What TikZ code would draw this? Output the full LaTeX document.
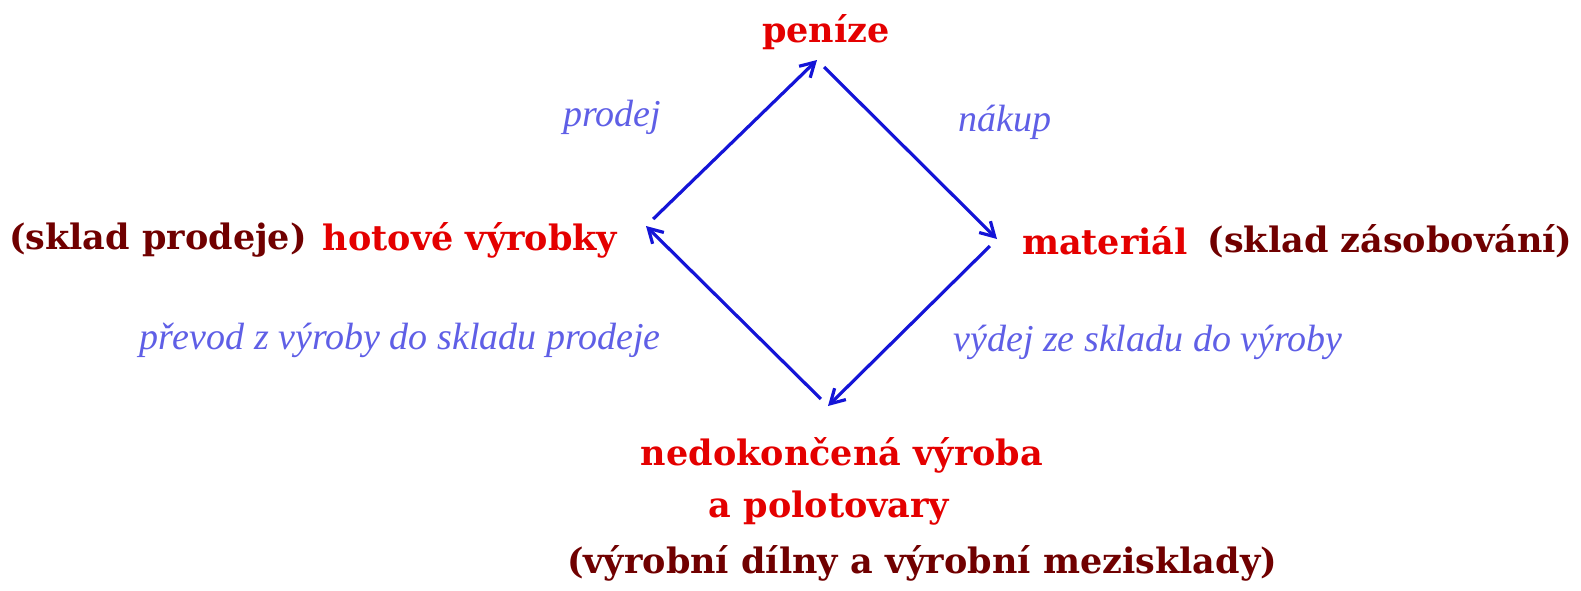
\documentclass[tikz,border=0pt]{standalone}
\usepackage{fontspec}
\setmainfont{DejaVu Serif}
\newfontfamily\flowfont{Liberation Serif}
\usetikzlibrary{arrows.meta}

\definecolor{itemred}{RGB}{228,0,0}
\definecolor{storebrown}{RGB}{112,0,0}
\definecolor{linkblue}{RGB}{20,20,215}
\definecolor{flowblue}{RGB}{95,95,230}

\begin{document}
\begin{tikzpicture}[x=0.5pt,y=-0.5pt,
  item/.style={font=\bfseries\fontsize{17.5}{20}\selectfont, text=itemred, inner sep=0pt},
  store/.style={font=\bfseries\fontsize{17.5}{20}\selectfont, text=storebrown, inner sep=0pt},
  flow/.style={font=\flowfont\itshape\fontsize{19}{22}\selectfont, text=flowblue, inner sep=0pt},
  link/.style={draw=linkblue, line width=1.6pt, -{Straight Barb[length=7pt,width=8pt,line width=1.6pt]}, shorten <=5pt}]
\useasboundingbox (0,0) rectangle (1581,590);

% states of the cycle
\node[item] (penize) at (826,32) {peníze};
\node[item] (hotove) at (470,240) {hotové výrobky};
\node[store] (skladprodeje) at (158,240) {(sklad prodeje)};
\node[item] (material) at (1105,241) {materiál};
\node[store] (skladzasob) at (1390,241) {(sklad zásobování)};
\node[item] (nedokoncena) at (842,455) {nedokončená výroba};
\node[item] (polotovary) at (829,508) {a polotovary};
\node[store] (dilny) at (922,563) {(výrobní dílny a výrobní mezisklady)};

% corners of the diamond
\coordinate (vl) at (646,226);
\coordinate (vt) at (817,60);
\coordinate (vr) at (997,239);
\coordinate (vb) at (828,406);

\draw[link] (vl) -- (vt);
\draw[link] (vt) -- (vr);
\draw[link] (vr) -- (vb);
\draw[link] (vb) -- (vl);

% flow labels
\node[flow] (prodej) at (612,117) {prodej};
\node[flow] (nakup) at (1005,122) {nákup};
\node[flow] (prevod) at (400,340) {převod z výroby do skladu prodeje};
\node[flow] (vydej) at (1148,342) {výdej ze skladu do výroby};
\end{tikzpicture}
\end{document}
